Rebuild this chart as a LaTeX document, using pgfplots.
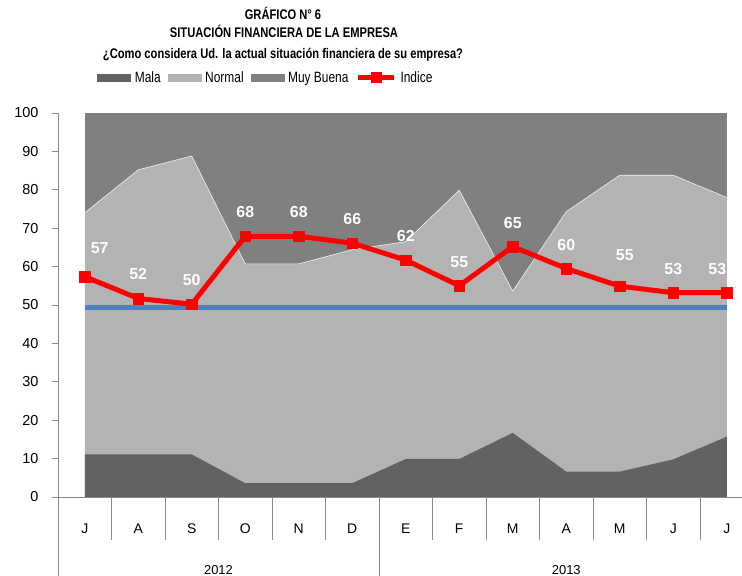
\documentclass[border=0pt]{standalone}
\usepackage{fontspec}
\setmainfont{Liberation Sans}
\newfontfamily\narrowfont[FakeStretch=0.8]{Liberation Sans}
\usepackage{graphicx}
\usepackage{pgfplots}
\pgfplotsset{compat=1.18}
\usepackage{pgfplotstable}

\definecolor{mala}{HTML}{626262}
\definecolor{normal}{HTML}{B3B3B3}
\definecolor{muyb}{HTML}{808080}
\definecolor{axgray}{HTML}{898989}
\definecolor{blueline}{HTML}{4F81BD}

% cumulative tops: mala, mala+normal
\pgfplotstableread{
x mala normal
0 11.1 74.0
1 11.1 85.2
2 11.1 88.8
3 3.6 60.7
4 3.6 60.7
5 3.6 64.4
6 9.9 66.5
7 9.9 79.9
8 16.7 53.6
9 6.6 74.3
10 6.6 83.8
11 9.8 83.8
12 15.7 78.0
}\areas

\pgfplotstableread{
x y lab
0 57.4 57
1 51.7 52
2 50.2 50
3 67.9 68
4 67.9 68
5 66.1 66
6 61.7 62
7 55.0 55
8 65.2 65
9 59.5 60
10 54.9 55
11 53.2 53
12 53.2 53
}\indice

\pgfplotsset{lbl/.style 2 args={draw=none, forget plot, nodes near coords, point meta=explicit symbolic,
  every node near coord/.append style={anchor=center, xshift=#1, yshift=#2,
    text=white, font=\bfseries\fontsize{16}{18}\selectfont}}}

\begin{document}
\begin{tikzpicture}
\path[use as bounding box, clip] (0,0) rectangle (742bp,576bp);
\begin{axis}[
  at={(58bp,79bp)}, anchor=south west,
  scale only axis, width=684bp, height=384bp,
  xmin=-0.5, xmax=12.285, ymin=0, ymax=100,
  clip=false,
  axis x line*=bottom, axis y line*=left,
  axis line style={axgray, line width=0.8bp},
  /pgf/number format/assume math mode=true,
  ytick={0,10,...,100},
  tick align=outside,
  major tick length=6bp,
  tick style={axgray, line width=0.8bp},
  xtick={0,...,12},
  xticklabels={J,A,S,O,N,D,E,F,M,A,M,J,J},
  xtick style={draw=none},
  xticklabel style={font=\fontsize{14}{16}\selectfont, yshift=-17bp},
  yticklabel style={font=\fontsize{14.5}{16}\selectfont, xshift=-10bp},
  legend style={at={(0.304,1.092)}, anchor=center, draw=none, fill=none,
    font=\narrowfont\fontsize{15}{17}\selectfont,
    /tikz/every odd column/.append style={column sep=2bp},
    /tikz/every even column/.append style={column sep=5bp}},
  legend columns=4,
]
\addplot[draw=none, fill=muyb, forget plot] coordinates {(0,100) (12,100)} \closedcycle;
\addplot[draw=none, fill=normal, forget plot] table[x=x, y=normal]{\areas} \closedcycle;
\addplot[white!80!normal, line width=0.6bp, forget plot] table[x=x, y=normal]{\areas};
\addplot[draw=none, fill=mala, forget plot] table[x=x, y=mala]{\areas} \closedcycle;

\addplot[blueline, line width=5bp, forget plot] coordinates {(0,49.4) (12,49.4)};

\addplot[red, line width=5bp, mark=square*, mark size=5.3bp,
  mark options={solid, line width=0.3bp}, forget plot]
  table[x=x, y=y]{\indice};

\addplot[lbl={15bp}{28bp}] coordinates {(0,57.4) [57]};
\addplot[lbl={0bp}{24bp}] coordinates {(1,51.7) [52] (2,50.2) [50] (3,67.9) [68] (4,67.9) [68]
  (5,66.1) [66] (6,61.7) [62] (7,55.0) [55] (8,65.2) [65] (9,59.5) [60] (11,53.2) [53]};
\addplot[lbl={5bp}{31bp}] coordinates {(10,54.9) [55]};
\addplot[lbl={-9.5bp}{24bp}] coordinates {(12,53.2) [53]};

\addlegendimage{legend image code/.code={\fill[mala] (0bp,-3.5bp) rectangle (33bp,3.5bp);}}
\addlegendentry{Mala}
\addlegendimage{legend image code/.code={\fill[normal] (0bp,-3.5bp) rectangle (33bp,3.5bp);}}
\addlegendentry{Normal}
\addlegendimage{legend image code/.code={\fill[muyb] (0bp,-3.5bp) rectangle (33bp,3.5bp);}}
\addlegendentry{Muy Buena}
\addlegendimage{legend image code/.code={\draw[red, line width=5bp] (0bp,0bp) -- (36bp,0bp); \fill[red] (13bp,-5bp) rectangle (23bp,5bp);}}
\addlegendentry{Indice}

\pgfplotsinvokeforeach{0.5,1.5,2.5,3.5,4.5,6.5,7.5,8.5,9.5,10.5,11.5}{
  \draw[axgray, line width=0.8bp] (axis cs:#1,0) -- ([yshift=-43bp]axis cs:#1,0);
}
\draw[axgray, line width=0.8bp] (axis cs:-0.5,0) -- ([yshift=-100bp]axis cs:-0.5,0);
\draw[axgray, line width=0.8bp] (axis cs:5.5,0) -- ([yshift=-100bp]axis cs:5.5,0);
\node[font=\fontsize{13}{15}\selectfont] at (axis cs:2.5,0) [yshift=-73bp] {2012};
\node[font=\fontsize{13}{15}\selectfont] at (axis cs:9,0) [yshift=-73bp] {2013};
\end{axis}
\node[font=\narrowfont\bfseries\fontsize{14}{16}\selectfont, anchor=base] at (283bp,556bp) {GRÁFICO N° 6};
\node[font=\narrowfont\bfseries\fontsize{14}{16}\selectfont, anchor=base] at (284bp,538bp) {SITUACIÓN FINANCIERA DE LA EMPRESA};
\node[font=\narrowfont\bfseries\fontsize{14}{16}\selectfont, anchor=base] at (283bp,517bp) {¿Como considera Ud. la actual situación financiera de su empresa?};
\end{tikzpicture}
\end{document}
